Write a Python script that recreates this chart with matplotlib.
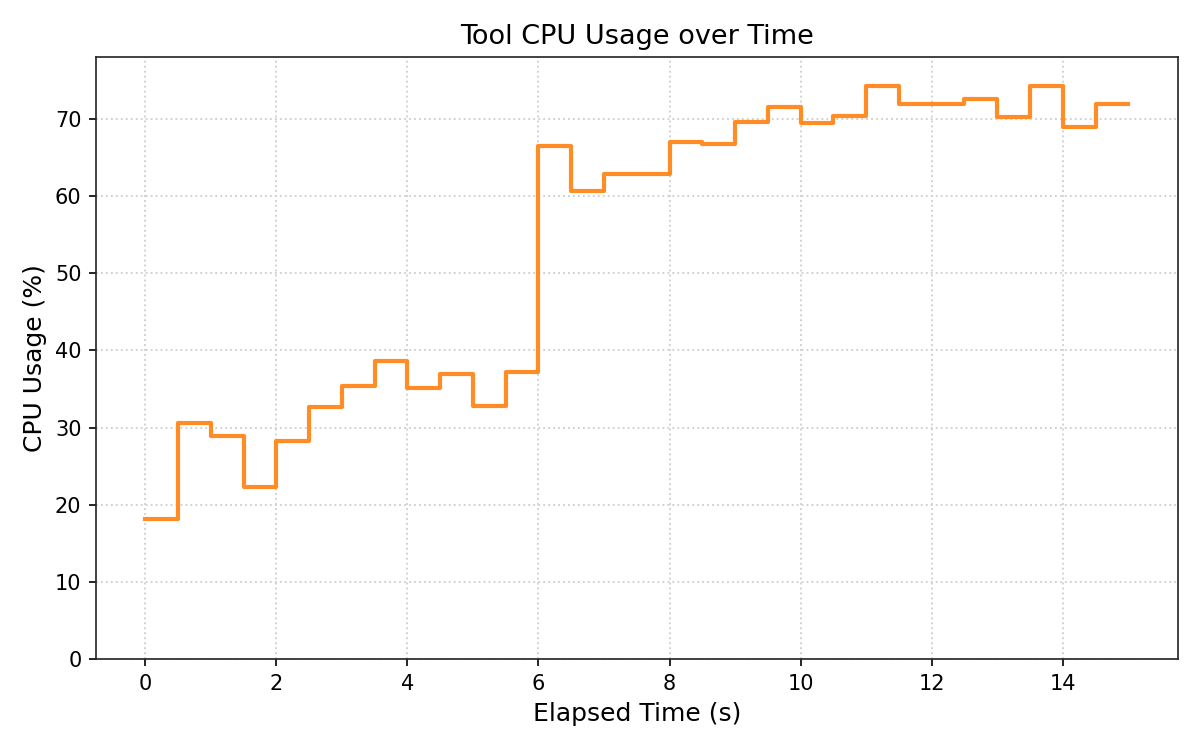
import numpy as np
import matplotlib
matplotlib.use("Agg")
import matplotlib.pyplot as plt

# sampled every 0.5 s
elapsed = np.arange(0, 15.01, 0.5)
cpu_usage = [18.2, 30.6, 28.9, 22.3, 28.3, 32.7, 35.4, 38.6, 35.1, 37.0,
             32.8, 37.2, 66.5, 60.7, 62.9, 62.9, 67.0, 66.8, 69.6, 71.6,
             69.5, 70.4, 74.2, 71.9, 71.9, 72.6, 70.3, 74.3, 69.0, 71.9,
             71.9]

fig, ax = plt.subplots(figsize=(8, 5), dpi=150)
ax.step(elapsed, cpu_usage, where='post', color='#ff8c25', linewidth=2)

ax.set_ylim(0, max(cpu_usage) * 1.05)
ax.set_title("Tool CPU Usage over Time", fontsize=13)
ax.set_xlabel("Elapsed Time (s)", fontsize=12)
ax.set_ylabel("CPU Usage (%)", fontsize=12)
ax.grid(True, linestyle=':', color='#d0d0d0', linewidth=0.9)
for s in ax.spines.values():
    s.set_color('#222222')

fig.tight_layout()
fig.subplots_adjust(top=0.924, bottom=0.121)
fig.savefig("out.png")
